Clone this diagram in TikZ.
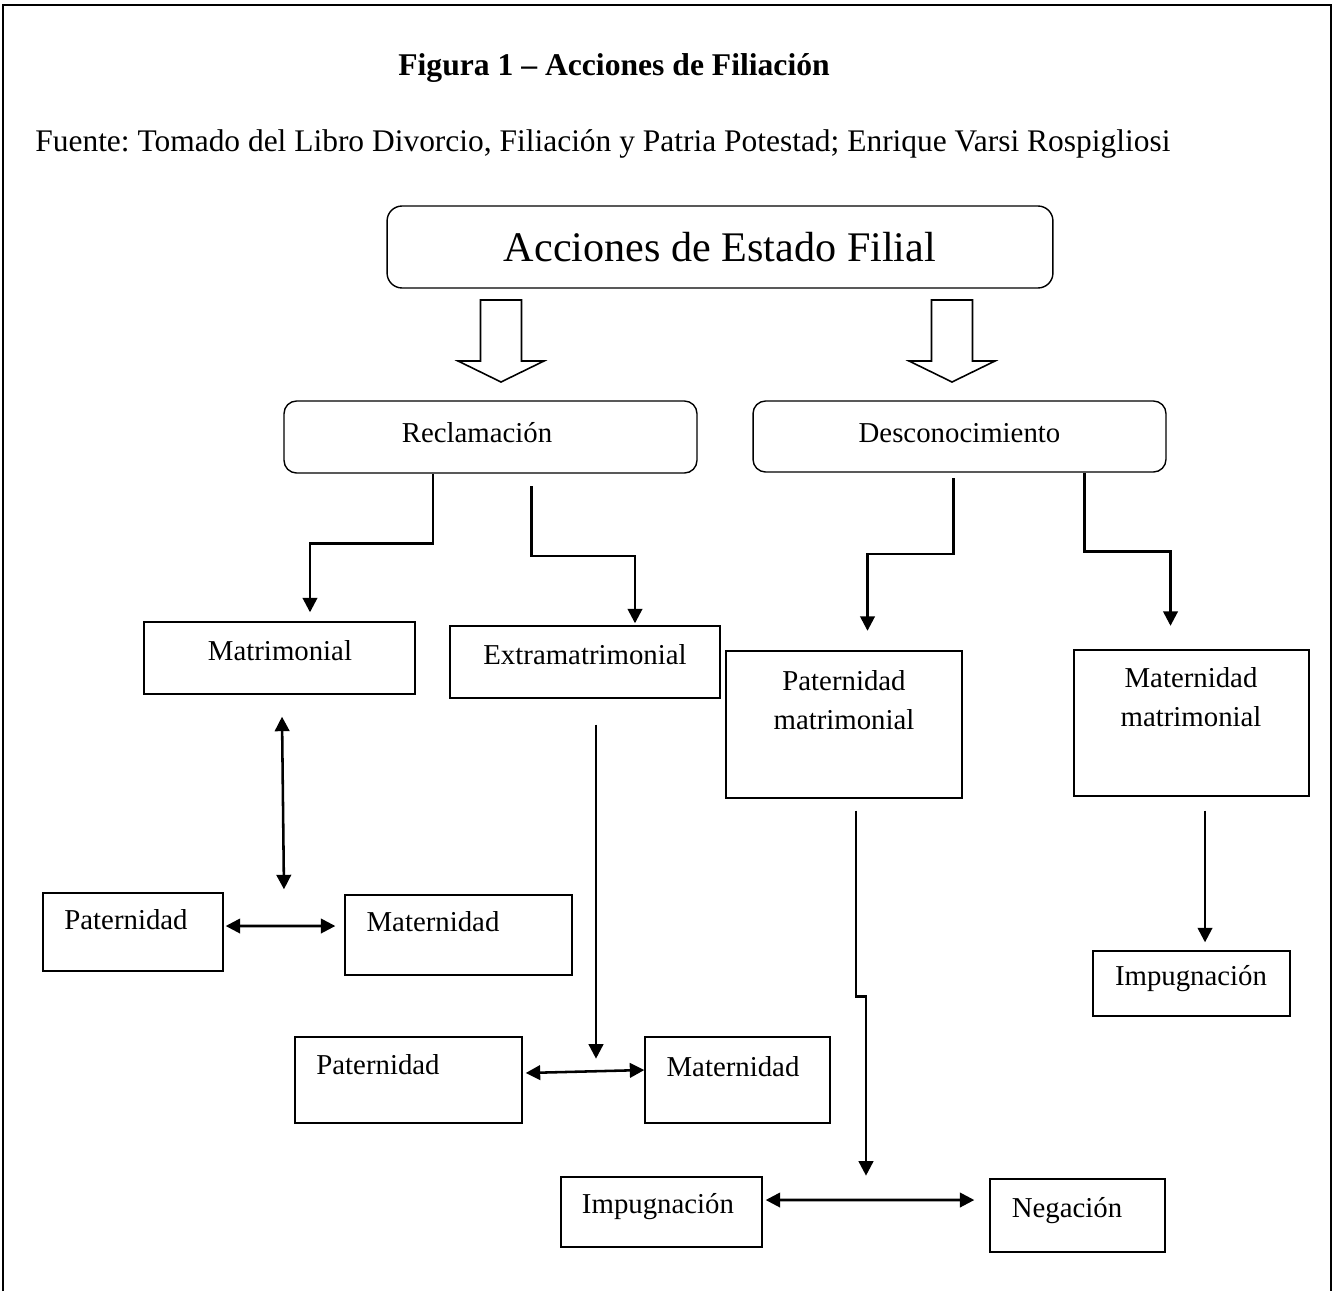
\documentclass[tikz,border=0pt]{standalone}
\usepackage{fontspec}
\setmainfont{Liberation Serif}
\usetikzlibrary{arrows.meta}
\frenchspacing

\begin{document}
\begin{tikzpicture}
		[x=0.02cm, y=-0.02cm, >={Triangle[length=0.29cm,width=0.29cm]},
		 font=\fontsize{16.4}{22}\selectfont,
		 box/.style = {draw, rectangle, line width=0.8pt, inner sep=0pt},
		 rbox/.style = {box, rounded corners=0.25cm},
		 con/.style = {line width=1.45pt}]
        \useasboundingbox (0,0) rectangle (1334,1291);
        \draw[line width=0.9pt] (3,1291) -- (3,5) -- (1331,5) -- (1331,1291);

        \node[font=\bfseries\fontsize{18}{21}\selectfont] (title) at (614,68) {Figura 1 – Acciones de Filiación};
        \node[anchor=base west, inner sep=0pt, font=\fontsize{17.9}{21}\selectfont] (fuente) at (35,151)
            {Fuente: Tomado del Libro Divorcio, Filiación y Patria Potestad; Enrique Varsi Rospigliosi};

        \node[rbox, rounded corners=0.3cm, minimum width=13.32cm, minimum height=1.64cm,
              font=\fontsize{24}{28}\selectfont] (estado) at (720,247) {Acciones de Estado Filial};

        % hollow block arrows
        \foreach \ax in {501,952}
            \draw[line width=0.9pt] (\ax-20.5,300) -- (\ax+20.5,300) -- (\ax+20.5,361) -- (\ax+43,361)
                -- (\ax,382) -- (\ax-43,361) -- (\ax-20.5,361) -- cycle;

        \node[rbox, minimum width=8.26cm, minimum height=1.44cm, label={[shift={(-13.5,-4)}]center:Reclamación}] (recl) at (490.5,437) {};
        \node[rbox, minimum width=8.26cm, minimum height=1.42cm, label={[shift={(0,-3.5)}]center:Desconocimiento}] (desc) at (959.5,436.5) {};

        \node[box, minimum width=5.42cm, minimum height=1.44cm, label={[shift={(0.5,-7)}]center:Matrimonial}] (matri) at (279.5,658) {};
        \node[box, minimum width=5.4cm, minimum height=1.44cm, label={[shift={(0,-7)}]center:Extramatrimonial}] (extra) at (585,662) {};
        \node[box, minimum width=4.72cm, minimum height=2.94cm, label={[shift={(0,-24.5)}, align=center]center:Paternidad\\matrimonial}] (patmat) at (844,724.5) {};
        \node[box, minimum width=4.7cm, minimum height=2.92cm, label={[shift={(-0.5,-26)}, align=center]center:Maternidad\\matrimonial}] (matmat) at (1191.5,723) {};

        \node[box, minimum width=3.6cm, minimum height=1.56cm, label={[shift={(-7,-12)}]center:Paternidad}] (pat1) at (133,932) {};
        \node[box, minimum width=4.54cm, minimum height=1.6cm, label={[shift={(-25.5,-13)}]center:Maternidad}] (mat1) at (458.5,935) {};
        \node[box, minimum width=4.54cm, minimum height=1.72cm, label={[shift={(-30.5,-15)}]center:Paternidad}] (pat2) at (408.5,1080) {};
        \node[box, minimum width=3.7cm, minimum height=1.72cm, label={[shift={(-4.5,-13)}]center:Maternidad}] (mat2) at (737.5,1080) {};
        \node[box, minimum width=4.02cm, minimum height=1.4cm, label={[shift={(-3.5,-5)}]center:Impugnación}] (impug1) at (661.5,1212) {};
        \node[box, minimum width=3.5cm, minimum height=1.46cm, label={[shift={(-10.5,-4.5)}]center:Negación}] (neg) at (1077.5,1215.5) {};
        \node[box, minimum width=3.94cm, minimum height=1.3cm, label={[shift={(-0.5,-4.5)}]center:Impugnación}] (impug2) at (1191.5,983.5) {};

        \draw[con, ->, shorten >=0.18cm] ([xshift=-1.15cm]recl.south) -- ++(0,70) -| ([xshift=0.61cm]matri.north);
        \draw[con, ->, shorten >=0.04cm] ([xshift=0.82cm,yshift=-0.25cm]recl.south) -- ++(0,70) -| ([xshift=1cm]extra.north);
        \draw[con, ->, shorten >=0.39cm] ([xshift=-0.12cm,yshift=-0.11cm]desc.south) -- ++(0,76) -| ([xshift=0.47cm]patmat.north);
        \draw[con, ->, shorten >=0.47cm] ([xshift=2.5cm]desc.south) -- ++(0,79) -| ([xshift=-0.42cm]matmat.north);

        \draw[con, <->] ([xshift=0.05cm,yshift=-0.44cm]matri.south) -- ([xshift=3.02cm,yshift=0.06cm]pat1.north);
        \draw[con, <->, shorten <=0.04cm] ([yshift=0.12cm]pat1.east) -- ([xshift=-0.18cm,yshift=0.18cm]mat1.west);
        \draw[con, ->] ([xshift=0.22cm,yshift=-0.52cm]extra.south) -- ++(0,334);
        \draw[con, <->] ([xshift=0.06cm,yshift=0.14cm]pat2.east) -- ([yshift=0.2cm]mat2.west);
        \draw[con, ->] ([xshift=0.24cm,yshift=-0.24cm]patmat.south) -- ++(0,186) -- ++(10,0) -- ++(0,179);
        \draw[con, <->] ([xshift=0.06cm,yshift=0.24cm]impug1.east) -- ([xshift=-0.3cm,yshift=0.31cm]neg.west);
        \draw[con, ->] ([xshift=0.27cm,yshift=-0.28cm]matmat.south) -- ([xshift=0.27cm,yshift=0.16cm]impug2.north);
	\end{tikzpicture}
\end{document}
